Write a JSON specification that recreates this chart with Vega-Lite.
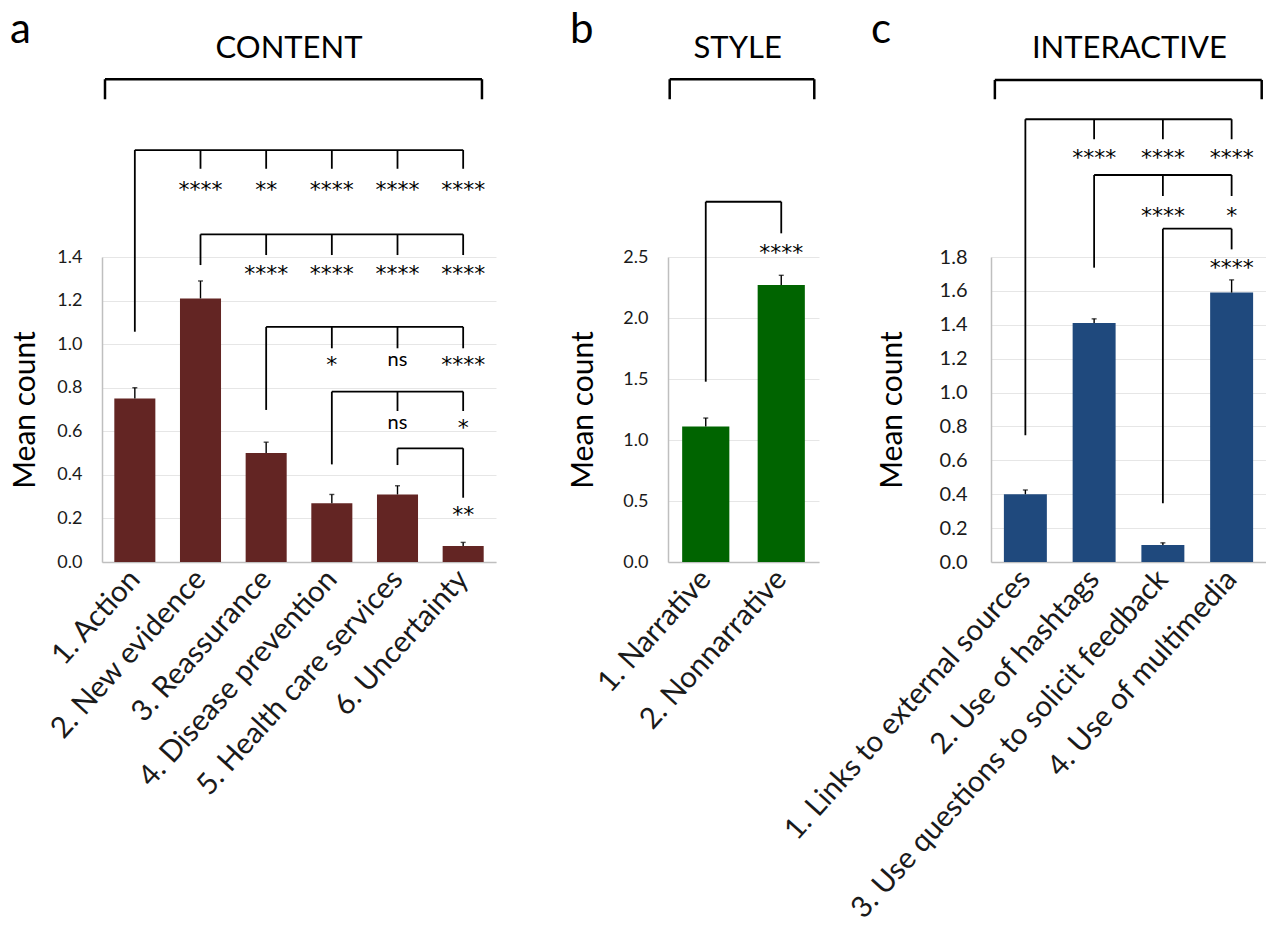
{
  "$schema": "https://vega.github.io/schema/vega-lite/v6.json",
  "padding": {"left": 10, "top": 8, "right": 0, "bottom": 0},
  "bounds": "flush",
  "spacing": 172,
  "config": {
    "font": "Lato",
    "view": {"stroke": null},
    "axis": {"labelFont": "Lato", "titleFont": "Lato", "labelColor": "#1a1a1a", "titleColor": "#000000", "domainColor": "#bfbfbf", "domainWidth": 1.5, "gridColor": "#e6e6e6", "gridWidth": 1, "ticks": false, "tickSize": 0, "titleFontWeight": "normal", "labelOverlap": false},
    "axisX": {"labelAngle": -48, "labelFontSize": 29.5, "labelAlign": "right", "labelBaseline": "middle", "labelPadding": 12, "grid": false, "labelLimit": 1000},
    "axisY": {"labelFontSize": 18, "labelPadding": 20, "titleFontSize": 30, "titlePadding": 20, "grid": true, "domain": true}
  },
  "datasets": {
    "a_bars": [
      {"cat": "1. Action", "mean": 0.75, "err": 0.80},
      {"cat": "2. New evidence", "mean": 1.21, "err": 1.29},
      {"cat": "3. Reassurance", "mean": 0.50, "err": 0.55},
      {"cat": "4. Disease prevention", "mean": 0.27, "err": 0.31},
      {"cat": "5. Health care services", "mean": 0.31, "err": 0.35},
      {"cat": "6. Uncertainty", "mean": 0.074, "err": 0.09}
    ],
    "a_h": [
      {"cat": "1. Action", "cat2": "6. Uncertainty", "y": 1.891},
      {"cat": "2. New evidence", "cat2": "6. Uncertainty", "y": 1.504},
      {"cat": "3. Reassurance", "cat2": "6. Uncertainty", "y": 1.079},
      {"cat": "4. Disease prevention", "cat2": "6. Uncertainty", "y": 0.782},
      {"cat": "5. Health care services", "cat2": "6. Uncertainty", "y": 0.522}
    ],
    "a_v": [
      {"cat": "1. Action", "y": 1.891, "y2": 1.057},
      {"cat": "2. New evidence", "y": 1.891, "y2": 1.805},
      {"cat": "3. Reassurance", "y": 1.891, "y2": 1.805},
      {"cat": "4. Disease prevention", "y": 1.891, "y2": 1.805},
      {"cat": "5. Health care services", "y": 1.891, "y2": 1.805},
      {"cat": "6. Uncertainty", "y": 1.891, "y2": 1.805},
      {"cat": "2. New evidence", "y": 1.504, "y2": 1.363},
      {"cat": "3. Reassurance", "y": 1.504, "y2": 1.409},
      {"cat": "4. Disease prevention", "y": 1.504, "y2": 1.409},
      {"cat": "5. Health care services", "y": 1.504, "y2": 1.409},
      {"cat": "6. Uncertainty", "y": 1.504, "y2": 1.409},
      {"cat": "3. Reassurance", "y": 1.079, "y2": 0.698},
      {"cat": "4. Disease prevention", "y": 1.079, "y2": 0.981},
      {"cat": "5. Health care services", "y": 1.079, "y2": 0.981},
      {"cat": "6. Uncertainty", "y": 1.079, "y2": 0.981},
      {"cat": "4. Disease prevention", "y": 0.782, "y2": 0.448},
      {"cat": "5. Health care services", "y": 0.782, "y2": 0.693},
      {"cat": "6. Uncertainty", "y": 0.782, "y2": 0.693},
      {"cat": "5. Health care services", "y": 0.522, "y2": 0.445},
      {"cat": "6. Uncertainty", "y": 0.522, "y2": 0.295}
    ],
    "a_sig": [
      {"cat": "2. New evidence", "y": 1.730, "label": "****"},
      {"cat": "3. Reassurance", "y": 1.730, "label": "**"},
      {"cat": "4. Disease prevention", "y": 1.730, "label": "****"},
      {"cat": "5. Health care services", "y": 1.730, "label": "****"},
      {"cat": "6. Uncertainty", "y": 1.730, "label": "****"},
      {"cat": "3. Reassurance", "y": 1.345, "label": "****"},
      {"cat": "4. Disease prevention", "y": 1.345, "label": "****"},
      {"cat": "5. Health care services", "y": 1.345, "label": "****"},
      {"cat": "6. Uncertainty", "y": 1.345, "label": "****"},
      {"cat": "4. Disease prevention", "y": 0.925, "label": "*"},
      {"cat": "5. Health care services", "y": 0.925, "label": "ns"},
      {"cat": "6. Uncertainty", "y": 0.925, "label": "****"},
      {"cat": "5. Health care services", "y": 0.639, "label": "ns"},
      {"cat": "6. Uncertainty", "y": 0.639, "label": "*"},
      {"cat": "6. Uncertainty", "y": 0.237, "label": "**"}
    ],
    "a_cat": [{"cat": "1. Action", "cat2": "6. Uncertainty", "y": 2.216, "y2": 2.124}],
    "a_title": [{"cat": "3. Reassurance", "y": 2.313, "label": "CONTENT"}],
    "b_bars": [
      {"cat": "1. Narrative", "mean": 1.11, "err": 1.18},
      {"cat": "2. Nonnarrative", "mean": 2.27, "err": 2.35}
    ],
    "b_h": [{"cat": "1. Narrative", "cat2": "2. Nonnarrative", "y": 2.953}],
    "b_v": [
      {"cat": "1. Narrative", "y": 2.953, "y2": 1.478},
      {"cat": "2. Nonnarrative", "y": 2.953, "y2": 2.694}
    ],
    "b_sig": [{"cat": "2. Nonnarrative", "y": 2.571, "label": "****"}],
    "b_cat": [{"cat": "1. Narrative", "cat2": "2. Nonnarrative", "y": 3.957, "y2": 3.793}],
    "b_title": [{"cat": "1. Narrative", "y": 4.131, "label": "STYLE"}],
    "c_bars": [
      {"cat": "1. Links to external sources", "mean": 0.40, "err": 0.425},
      {"cat": "2. Use of hashtags", "mean": 1.41, "err": 1.435},
      {"cat": "3. Use questions to solicit feedback", "mean": 0.10, "err": 0.113},
      {"cat": "4. Use of multimedia", "mean": 1.59, "err": 1.665}
    ],
    "c_h": [
      {"cat": "1. Links to external sources", "cat2": "4. Use of multimedia", "y": 2.613},
      {"cat": "2. Use of hashtags", "cat2": "4. Use of multimedia", "y": 2.284},
      {"cat": "3. Use questions to solicit feedback", "cat2": "4. Use of multimedia", "y": 1.967}
    ],
    "c_v": [
      {"cat": "1. Links to external sources", "y": 2.613, "y2": 0.748},
      {"cat": "2. Use of hashtags", "y": 2.613, "y2": 2.495},
      {"cat": "3. Use questions to solicit feedback", "y": 2.613, "y2": 2.495},
      {"cat": "4. Use of multimedia", "y": 2.613, "y2": 2.495},
      {"cat": "2. Use of hashtags", "y": 2.284, "y2": 1.737},
      {"cat": "3. Use questions to solicit feedback", "y": 2.284, "y2": 2.160},
      {"cat": "4. Use of multimedia", "y": 2.284, "y2": 2.160},
      {"cat": "3. Use questions to solicit feedback", "y": 1.967, "y2": 0.346},
      {"cat": "4. Use of multimedia", "y": 1.967, "y2": 1.845}
    ],
    "c_sig": [
      {"cat": "2. Use of hashtags", "y": 2.412, "label": "****"},
      {"cat": "3. Use questions to solicit feedback", "y": 2.412, "label": "****"},
      {"cat": "4. Use of multimedia", "y": 2.412, "label": "****"},
      {"cat": "3. Use questions to solicit feedback", "y": 2.072, "label": "****"},
      {"cat": "4. Use of multimedia", "y": 2.072, "label": "*"},
      {"cat": "4. Use of multimedia", "y": 1.766, "label": "****"}
    ],
    "c_cat": [{"cat": "1. Links to external sources", "cat2": "4. Use of multimedia", "y": 2.845, "y2": 2.731}],
    "c_title": [{"cat": "2. Use of hashtags", "y": 2.974, "label": "INTERACTIVE"}]
  },
  "hconcat": [
    {
      "width": 394,
      "height": 305,
      "title": {"text": "a", "anchor": "start", "frame": "group", "dx": -92, "fontSize": 42, "fontWeight": "normal", "font": "Lato", "baseline": "alphabetic", "offset": -51.5, "color": "#000000"},
      "layer": [
        {"data": {"name": "a_bars"}, "mark": {"type": "bar", "color": "#632523"},
         "encoding": {
           "x": {"field": "cat", "type": "nominal", "scale": {"domain": ["1. Action", "2. New evidence", "3. Reassurance", "4. Disease prevention", "5. Health care services", "6. Uncertainty"], "paddingInner": 0.375, "paddingOuter": 0.1875}, "axis": {"title": null}},
           "y": {"field": "mean", "type": "quantitative", "scale": {"domain": [0, 1.4], "nice": false, "zero": true}, "axis": {"values": [0, 0.2, 0.4, 0.6, 0.8, 1.0, 1.2, 1.4], "tickCount": 20, "format": ".1f", "title": "Mean count", "titlePadding": 16, "labelOverlap": false}}}},
        {"data": {"name": "a_bars"}, "mark": {"type": "rule", "strokeWidth": 1.4, "color": "#000000"},
         "encoding": {
           "x": {"field": "cat", "type": "nominal"},
           "y": {"field": "mean", "type": "quantitative"},
           "y2": {"field": "err"}}},
        {"data": {"name": "a_bars"}, "mark": {"type": "tick", "size": 5, "thickness": 1.4, "color": "#000000"},
         "encoding": {
           "x": {"field": "cat", "type": "nominal"},
           "y": {"field": "err", "type": "quantitative"}}},
        {"data": {"name": "a_h"}, "mark": {"type": "rule", "strokeWidth": 1.8, "color": "#000000"},
         "encoding": {
           "x": {"field": "cat", "type": "nominal"},
           "x2": {"field": "cat2"},
           "y": {"field": "y", "type": "quantitative"}}},
        {"data": {"name": "a_v"}, "mark": {"type": "rule", "strokeWidth": 1.8, "color": "#000000"},
         "encoding": {
           "x": {"field": "cat", "type": "nominal"},
           "y": {"field": "y", "type": "quantitative"},
           "y2": {"field": "y2"}}},
        {"data": {"name": "a_sig"}, "transform": [{"filter": "datum.label != 'ns'"}],
         "mark": {"type": "text", "font": "DejaVu Sans", "fontSize": 22, "baseline": "middle", "align": "center", "dy": 5, "color": "#000000"},
         "encoding": {
           "x": {"field": "cat", "type": "nominal"},
           "y": {"field": "y", "type": "quantitative"},
           "text": {"field": "label"}}},
        {"data": {"name": "a_sig"}, "transform": [{"filter": "datum.label == 'ns'"}],
         "mark": {"type": "text", "font": "Lato", "fontSize": 20, "baseline": "middle", "align": "center", "color": "#000000"},
         "encoding": {
           "x": {"field": "cat", "type": "nominal"},
           "y": {"field": "y", "type": "quantitative"},
           "text": {"field": "label"}}},
        {"data": {"name": "a_cat"}, "mark": {"type": "rule", "strokeWidth": 2.5, "color": "#000000"},
         "encoding": {
           "x": {"field": "cat", "type": "nominal", "bandPosition": -0.227},
           "x2": {"field": "cat2", "bandPosition": 0.958},
           "y": {"field": "y", "type": "quantitative"}}},
        {"data": {"name": "a_cat"}, "mark": {"type": "rule", "strokeWidth": 2.5, "color": "#000000"},
         "encoding": {
           "x": {"field": "cat", "type": "nominal", "bandPosition": -0.227},
           "y": {"field": "y", "type": "quantitative"},
           "y2": {"field": "y2"}}},
        {"data": {"name": "a_cat"}, "mark": {"type": "rule", "strokeWidth": 2.5, "color": "#000000"},
         "encoding": {
           "x": {"field": "cat2", "type": "nominal", "bandPosition": 0.958},
           "y": {"field": "y", "type": "quantitative"},
           "y2": {"field": "y2"}}},
        {"data": {"name": "a_title"}, "mark": {"type": "text", "font": "Lato", "fontSize": 31, "baseline": "alphabetic", "align": "center", "color": "#000000"},
         "encoding": {
           "x": {"field": "cat", "type": "nominal", "bandPosition": 1.057},
           "y": {"field": "y", "type": "quantitative"},
           "text": {"field": "label"}}}
      ]
    },
    {
      "width": 151,
      "height": 305,
      "title": {"text": "b", "anchor": "start", "frame": "group", "dx": -98, "fontSize": 42, "fontWeight": "normal", "font": "Lato", "baseline": "alphabetic", "offset": -51.5, "color": "#000000"},
      "layer": [
        {"data": {"name": "b_bars"}, "mark": {"type": "bar", "color": "#006400"},
         "encoding": {
           "x": {"field": "cat", "type": "nominal", "scale": {"domain": ["1. Narrative", "2. Nonnarrative"], "paddingInner": 0.375, "paddingOuter": 0.1875}, "axis": {"title": null}},
           "y": {"field": "mean", "type": "quantitative", "scale": {"domain": [0, 2.5], "nice": false, "zero": true}, "axis": {"values": [0, 0.5, 1.0, 1.5, 2.0, 2.5], "tickCount": 20, "format": ".1f", "title": "Mean count", "titlePadding": 24, "labelOverlap": false}}}},
        {"data": {"name": "b_bars"}, "mark": {"type": "rule", "strokeWidth": 1.4, "color": "#000000"},
         "encoding": {
           "x": {"field": "cat", "type": "nominal"},
           "y": {"field": "mean", "type": "quantitative"},
           "y2": {"field": "err"}}},
        {"data": {"name": "b_bars"}, "mark": {"type": "tick", "size": 5, "thickness": 1.4, "color": "#000000"},
         "encoding": {
           "x": {"field": "cat", "type": "nominal"},
           "y": {"field": "err", "type": "quantitative"}}},
        {"data": {"name": "b_h"}, "mark": {"type": "rule", "strokeWidth": 1.8, "color": "#000000"},
         "encoding": {
           "x": {"field": "cat", "type": "nominal"},
           "x2": {"field": "cat2"},
           "y": {"field": "y", "type": "quantitative"}}},
        {"data": {"name": "b_v"}, "mark": {"type": "rule", "strokeWidth": 1.8, "color": "#000000"},
         "encoding": {
           "x": {"field": "cat", "type": "nominal"},
           "y": {"field": "y", "type": "quantitative"},
           "y2": {"field": "y2"}}},
        {"data": {"name": "b_sig"},
         "mark": {"type": "text", "font": "DejaVu Sans", "fontSize": 22, "baseline": "middle", "align": "center", "dy": 5, "color": "#000000"},
         "encoding": {
           "x": {"field": "cat", "type": "nominal"},
           "y": {"field": "y", "type": "quantitative"},
           "text": {"field": "label"}}},
        {"data": {"name": "b_cat"}, "mark": {"type": "rule", "strokeWidth": 2.5, "color": "#000000"},
         "encoding": {
           "x": {"field": "cat", "type": "nominal", "bandPosition": -0.264},
           "x2": {"field": "cat2", "bandPosition": 1.2},
           "y": {"field": "y", "type": "quantitative"}}},
        {"data": {"name": "b_cat"}, "mark": {"type": "rule", "strokeWidth": 2.5, "color": "#000000"},
         "encoding": {
           "x": {"field": "cat", "type": "nominal", "bandPosition": -0.264},
           "y": {"field": "y", "type": "quantitative"},
           "y2": {"field": "y2"}}},
        {"data": {"name": "b_cat"}, "mark": {"type": "rule", "strokeWidth": 2.5, "color": "#000000"},
         "encoding": {
           "x": {"field": "cat2", "type": "nominal", "bandPosition": 1.2},
           "y": {"field": "y", "type": "quantitative"},
           "y2": {"field": "y2"}}},
        {"data": {"name": "b_title"}, "mark": {"type": "text", "font": "Lato", "fontSize": 31, "baseline": "alphabetic", "align": "center", "color": "#000000"},
         "encoding": {
           "x": {"field": "cat", "type": "nominal", "bandPosition": 1.177},
           "y": {"field": "y", "type": "quantitative"},
           "text": {"field": "label"}}}
      ]
    },
    {
      "width": 275,
      "height": 305,
      "title": {"text": "c", "anchor": "start", "frame": "group", "dx": -120, "fontSize": 42, "fontWeight": "normal", "font": "Lato", "baseline": "alphabetic", "offset": -51.5, "color": "#000000"},
      "layer": [
        {"data": {"name": "c_bars"}, "mark": {"type": "bar", "color": "#1F497D"},
         "encoding": {
           "x": {"field": "cat", "type": "nominal", "scale": {"domain": ["1. Links to external sources", "2. Use of hashtags", "3. Use questions to solicit feedback", "4. Use of multimedia"], "paddingInner": 0.375, "paddingOuter": 0.1875}, "axis": {"title": null}},
           "y": {"field": "mean", "type": "quantitative", "scale": {"domain": [0, 1.8], "nice": false, "zero": true}, "axis": {"values": [0, 0.2, 0.4, 0.6, 0.8, 1.0, 1.2, 1.4, 1.6, 1.8], "tickCount": 20, "format": ".1f", "title": "Mean count", "labelFontSize": 20, "labelPadding": 24, "titlePadding": 32, "labelOverlap": false}}}},
        {"data": {"name": "c_bars"}, "mark": {"type": "rule", "strokeWidth": 1.4, "color": "#000000"},
         "encoding": {
           "x": {"field": "cat", "type": "nominal"},
           "y": {"field": "mean", "type": "quantitative"},
           "y2": {"field": "err"}}},
        {"data": {"name": "c_bars"}, "mark": {"type": "tick", "size": 5, "thickness": 1.4, "color": "#000000"},
         "encoding": {
           "x": {"field": "cat", "type": "nominal"},
           "y": {"field": "err", "type": "quantitative"}}},
        {"data": {"name": "c_h"}, "mark": {"type": "rule", "strokeWidth": 1.8, "color": "#000000"},
         "encoding": {
           "x": {"field": "cat", "type": "nominal"},
           "x2": {"field": "cat2"},
           "y": {"field": "y", "type": "quantitative"}}},
        {"data": {"name": "c_v"}, "mark": {"type": "rule", "strokeWidth": 1.8, "color": "#000000"},
         "encoding": {
           "x": {"field": "cat", "type": "nominal"},
           "y": {"field": "y", "type": "quantitative"},
           "y2": {"field": "y2"}}},
        {"data": {"name": "c_sig"},
         "mark": {"type": "text", "font": "DejaVu Sans", "fontSize": 22, "baseline": "middle", "align": "center", "dy": 5, "color": "#000000"},
         "encoding": {
           "x": {"field": "cat", "type": "nominal"},
           "y": {"field": "y", "type": "quantitative"},
           "text": {"field": "label"}}},
        {"data": {"name": "c_cat"}, "mark": {"type": "rule", "strokeWidth": 2.5, "color": "#000000"},
         "encoding": {
           "x": {"field": "cat", "type": "nominal", "bandPosition": -0.21},
           "x2": {"field": "cat2", "bandPosition": 1.2},
           "y": {"field": "y", "type": "quantitative"}}},
        {"data": {"name": "c_cat"}, "mark": {"type": "rule", "strokeWidth": 2.5, "color": "#000000"},
         "encoding": {
           "x": {"field": "cat", "type": "nominal", "bandPosition": -0.21},
           "y": {"field": "y", "type": "quantitative"},
           "y2": {"field": "y2"}}},
        {"data": {"name": "c_cat"}, "mark": {"type": "rule", "strokeWidth": 2.5, "color": "#000000"},
         "encoding": {
           "x": {"field": "cat2", "type": "nominal", "bandPosition": 1.2},
           "y": {"field": "y", "type": "quantitative"},
           "y2": {"field": "y2"}}},
        {"data": {"name": "c_title"}, "mark": {"type": "text", "font": "Lato", "fontSize": 31, "baseline": "alphabetic", "align": "center", "color": "#000000"},
         "encoding": {
           "x": {"field": "cat", "type": "nominal", "bandPosition": 1.32},
           "y": {"field": "y", "type": "quantitative"},
           "text": {"field": "label"}}}
      ]
    }
  ]
}
